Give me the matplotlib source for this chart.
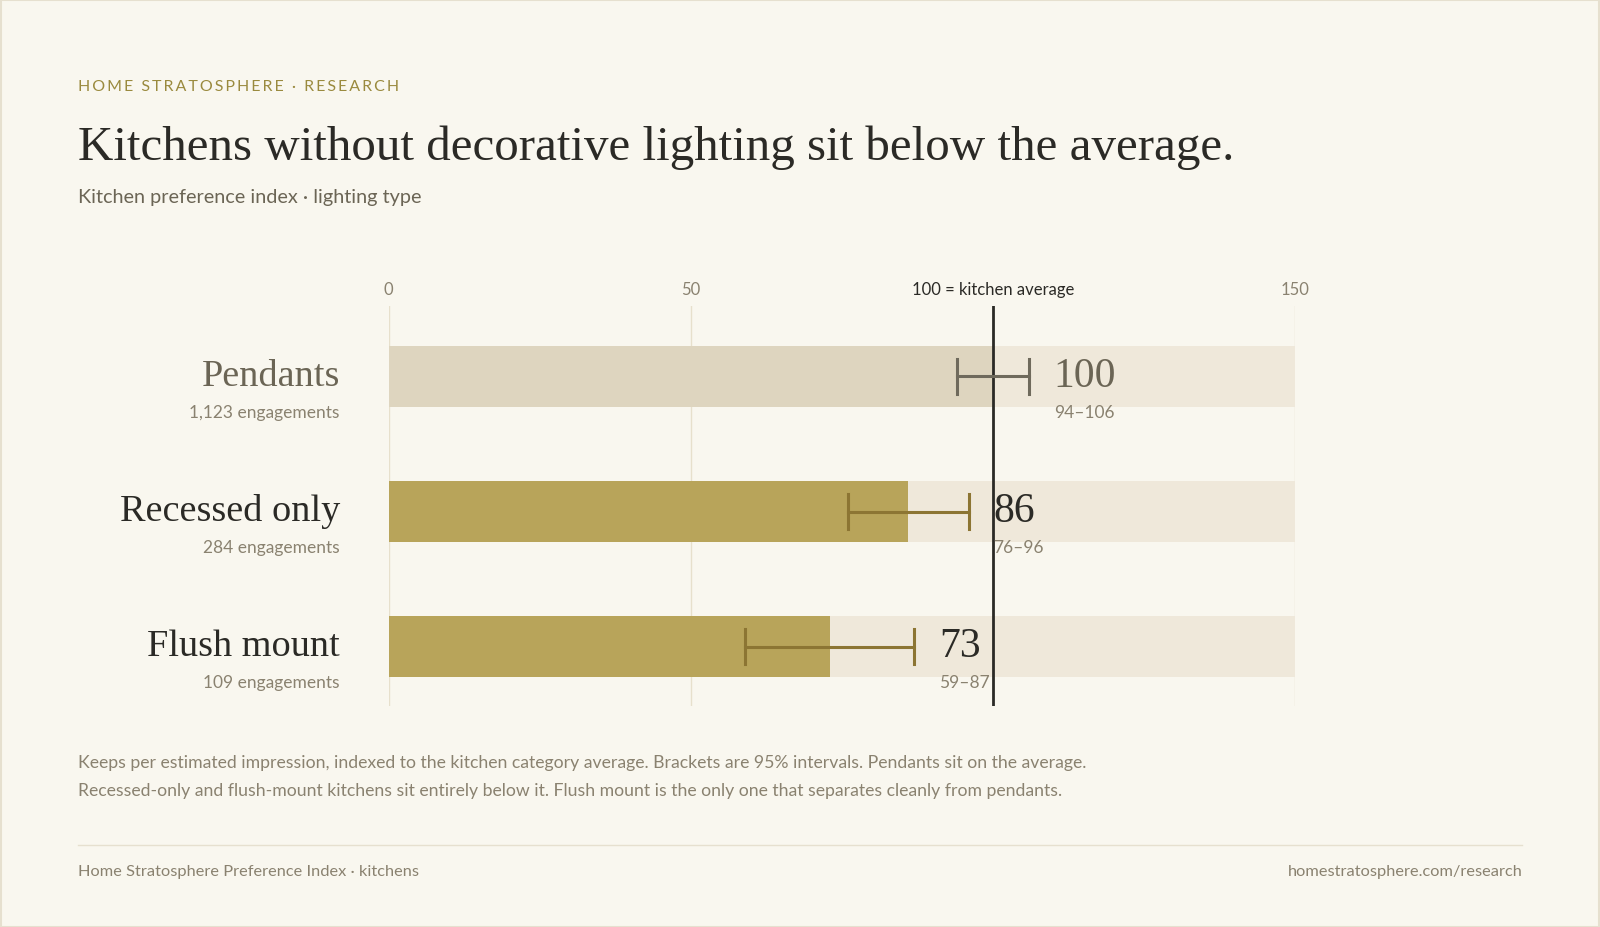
import matplotlib.pyplot as plt
from matplotlib.patches import Rectangle

categories = ["Pendants", "Recessed only", "Flush mount"]
engagements = ["1,123 engagements", "284 engagements", "109 engagements"]
values = [100, 86, 73]
ci_low = [94, 76, 59]
ci_high = [106, 96, 87]
ticks = [0, 50, 100, 150]
tick_labels = ["0", "50", "100 = kitchen average", "150"]

BG = "#f9f7ef"
GOLD = "#b8a45a"
TRACK = "#efe8da"
PEND = "#ded5bf"
DARK = "#2b2a26"
MUTED = "#8a8270"
SANS = ["Lato", "DejaVu Sans"]
SERIF = ["Liberation Serif", "DejaVu Serif"]

W, H = 1568, 927 * 1568 / 1600
fig = plt.figure(figsize=(16, 9.27), dpi=100, facecolor=BG)

def px(x, y):
    return x / W, 1 - y / H

fig.patches.append(Rectangle((0.0005, 0.0005), 0.999, 0.999, transform=fig.transFigure,
                             fill=False, edgecolor="#e6e0cf", lw=1.5))

x0, x1, ytop, ybot = 381, 1269, 300, 692
ax = fig.add_axes([x0 / W, 1 - ybot / H, (x1 - x0) / W, (ybot - ytop) / H])
ax.set_facecolor("none")
ax.set_xlim(0, 150)
ax.set_ylim(2.44, -0.52)
for s in ax.spines.values():
    s.set_visible(False)
ax.set_xticks([])
ax.set_yticks([])

for t in [0, 50, 150]:
    ax.axvline(t, color="#e7e0cc", lw=1, zorder=0)

for i, v in enumerate(values):
    ax.barh(i, 150, height=0.455, color=TRACK, zorder=1)
    ax.barh(i, v, height=0.455, color=PEND if i == 0 else GOLD, zorder=2)

ax.axvline(100, color=DARK, lw=2, zorder=3)

for i, v in enumerate(values):
    ec = "#6f6a5c" if i == 0 else "#8c7533"
    ax.plot([ci_low[i], ci_high[i]], [i, i], color=ec, lw=2.2, zorder=4)
    for c in (ci_low[i], ci_high[i]):
        ax.plot([c, c], [i - 0.13, i + 0.13], color=ec, lw=2.2, zorder=4)
    vc = "#6b6555" if i == 0 else DARK
    ax.text(ci_high[i] + 4.1, i, str(v), fontsize=30, family=SERIF, color=vc,
            va="center", ha="left", zorder=5)
    ax.text(ci_high[i] + 4.1, i + 0.27, f"{ci_low[i]}\u2013{ci_high[i]}", fontsize=12.5,
            family=SANS, color=MUTED, va="center", ha="left", zorder=5)
    ax.text(-8.1, i, categories[i], fontsize=27.5, family=SERIF, color=vc,
            va="center", ha="right")
    ax.text(-8.1, i + 0.27, engagements[i], fontsize=12.5, family=SANS, color=MUTED,
            va="center", ha="right")

for t, lab in zip(ticks, tick_labels):
    ax.text(t, -0.64, lab, fontsize=12, family=SANS, ha="center", va="center",
            color=DARK if t == 100 else MUTED)

kicker = "HOME STRATOSPHERE \u00b7 RESEARCH"
fig.text(*px(76, 85), "\u2009".join(kicker), fontsize=11.5, family=SANS,
         color="#9a8a3e", va="center", ha="left")
fig.text(*px(76, 145), "Kitchens without decorative lighting sit below the average.",
         fontsize=35.3, family=SERIF, color=DARK, va="center", ha="left")
fig.text(*px(76, 194), "Kitchen preference index \u00b7 lighting type", fontsize=14.3,
         family=SANS, color="#6b6555", va="center", ha="left")
fig.text(*px(76, 748), "Keeps per estimated impression, indexed to the kitchen category average. "
         "Brackets are 95% intervals. Pendants sit on the average.", fontsize=12.7,
         family=SANS, color=MUTED, va="center", ha="left")
fig.text(*px(76, 775), "Recessed-only and flush-mount kitchens sit entirely below it. "
         "Flush mount is the only one that separates cleanly from pendants.", fontsize=12.7,
         family=SANS, color=MUTED, va="center", ha="left")

fig.add_artist(plt.Line2D([76 / W, 1492 / W], [1 - 828 / H] * 2, color="#e6e0cf", lw=1))
fig.text(*px(76, 855), "Home Stratosphere Preference Index \u00b7 kitchens", fontsize=11.8,
         family=SANS, color=MUTED, va="center", ha="left")
fig.text(*px(1492, 855), "homestratosphere.com/research", fontsize=11.8,
         family=SANS, color=MUTED, va="center", ha="right")

fig.savefig("out.png", dpi=100, facecolor=BG)
